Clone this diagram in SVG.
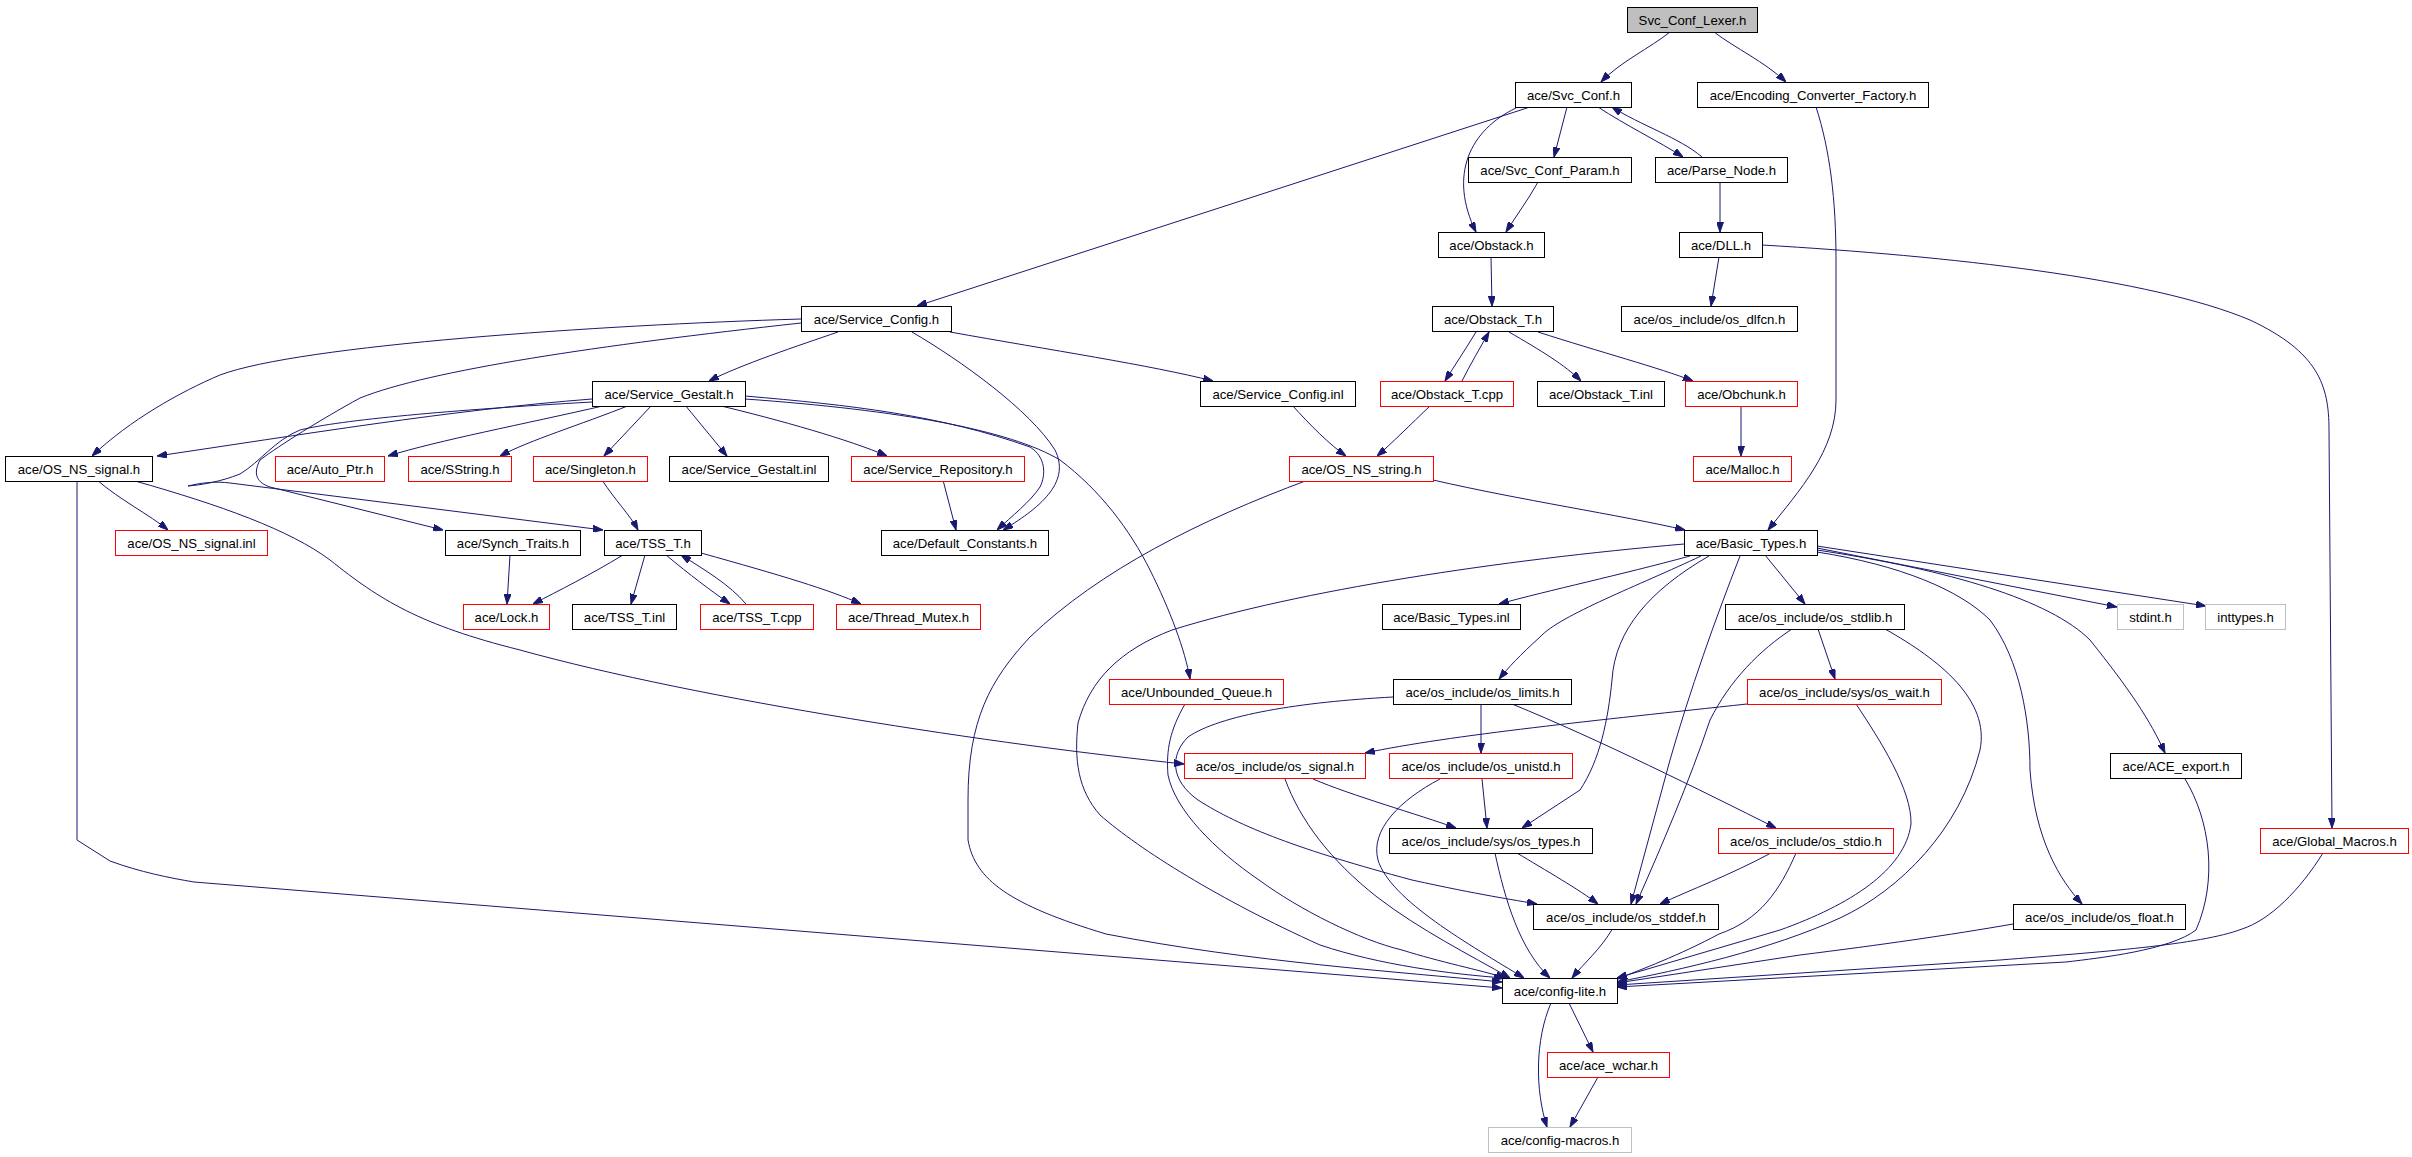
<svg xmlns="http://www.w3.org/2000/svg" width="2412" height="1157" viewBox="0 0 2412 1157">
<style>
.node rect{fill:#ffffff;stroke:#000000;stroke-width:1}
.node.red rect{stroke:#ff0000}
.node.gray rect{stroke:#bfbfbf}
.node.root rect{fill:#bfbfbf}
.node text{font-family:"Liberation Sans",Arial,sans-serif;font-size:13.2px;fill:#000000;text-anchor:middle}
#edges path{fill:none;stroke:#191970;stroke-width:1;marker-end:url(#arr)}
</style>
<defs>
<marker id="arr" viewBox="0 0 10 7" refX="10" refY="3.5" markerWidth="10" markerHeight="7" markerUnits="userSpaceOnUse" orient="auto">
<path d="M0,0 L10,3.5 L0,7 z" fill="#191970" stroke="#191970"/>
</marker>
</defs>
<rect width="2412" height="1157" fill="#ffffff"/>
<g id="edges">
<path d="M1670,32 C1650,48 1620,62 1601,82"/>
<path d="M1714,32 C1735,48 1765,62 1786,82"/>
<path d="M1530,107 L917,306"/>
<path d="M1516,108 C1470,130 1448,175 1476,232"/>
<path d="M1567,107 L1554,157"/>
<path d="M1598,107 C1625,125 1660,142 1683,157"/>
<path d="M1702,157 C1680,138 1640,125 1612,107"/>
<path d="M1538,182 C1528,200 1516,216 1506,232"/>
<path d="M1720,182 L1720,232"/>
<path d="M1719,257 L1711,306"/>
<path d="M1762,245 C1950,256 2150,278 2250,320 C2318,352 2329,385 2329,430 L2332,828"/>
<path d="M1816,107 C1830,150 1836,200 1836,260 L1836,400 C1836,450 1800,490 1768,530"/>
<path d="M1491,257 L1492,306"/>
<path d="M1476,332 C1465,350 1455,365 1445,381"/>
<path d="M1462,381 C1470,365 1480,348 1489,332"/>
<path d="M1509,332 C1540,350 1565,365 1581,381"/>
<path d="M1538,332 C1600,352 1660,368 1693,381"/>
<path d="M1741,405 L1741,456"/>
<path d="M1431,405 C1410,425 1390,445 1377,456"/>
<path d="M1292,405 C1310,425 1330,445 1346,456"/>
<path d="M1433,480 C1520,500 1620,515 1685,530"/>
<path d="M1308,480 C1200,520 1100,570 1030,637 C990,680 968,720 968,800 L968,840 C975,880 1010,905 1106,934 C1250,962 1400,972 1502,982"/>
<path d="M838,332 C800,345 740,365 709,381"/>
<path d="M801,319 C600,325 300,345 220,375 C180,392 130,420 92,456"/>
<path d="M801,323 C600,345 430,370 360,398 C320,420 280,445 260,460 C252,475 258,483 270,487 L443,530"/>
<path d="M912,332 C960,360 1030,410 1055,450 C1070,480 1045,505 1003,530"/>
<path d="M950,332 C1050,350 1150,365 1213,381"/>
<path d="M745,396 C850,405 940,415 1030,447 C1046,457 1046,475 1040,487 C1030,502 1012,516 997,530"/>
<path d="M745,399 C900,410 1010,430 1060,460 C1100,490 1130,530 1150,570 C1170,610 1185,650 1190,679"/>
<path d="M717,405 C780,420 850,440 887,456"/>
<path d="M685,405 L727,456"/>
<path d="M652,405 L604,456"/>
<path d="M630,405 C580,425 530,440 500,456"/>
<path d="M607,405 C520,425 440,440 388,456"/>
<path d="M592,399 C450,410 300,435 157,456"/>
<path d="M592,402 C450,410 340,420 300,430 C275,440 260,462 240,474 C220,482 200,485 188,486 C200,483 215,481 230,483 L603,530"/>
<path d="M943,480 L956,530"/>
<path d="M602,480 C615,500 630,515 638,530"/>
<path d="M510,555 L507,604"/>
<path d="M623,555 C590,575 560,590 533,604"/>
<path d="M645,555 L631,604"/>
<path d="M666,555 C690,575 710,590 730,604"/>
<path d="M746,604 C730,585 705,570 681,555"/>
<path d="M701,553 C780,575 830,590 861,604"/>
<path d="M97,480 C120,500 150,515 168,530"/>
<path d="M135,481 C220,505 290,530 330,560 C380,600 420,625 520,650 C700,700 1000,745 1184,764"/>
<path d="M77,480 L77,840 L110,861 C140,872 170,878 194,882 L1502,988"/>
<path d="M1684,544 C1500,560 1300,590 1172,630 C1120,650 1090,680 1078,723 C1074,760 1078,790 1100,815 C1140,850 1220,900 1320,945 C1380,965 1450,974 1504,978"/>
<path d="M1185,704 C1170,730 1166,750 1168,775 C1175,810 1215,850 1259,880 C1300,910 1360,940 1402,950 C1440,962 1480,970 1506,978"/>
<path d="M1393,697 C1300,702 1220,715 1188,737 C1170,755 1170,780 1198,800 C1240,827 1300,850 1412,880 C1480,895 1515,900 1537,904"/>
<path d="M1285,779 C1300,820 1330,860 1377,897 C1420,930 1470,955 1510,978"/>
<path d="M1313,779 C1350,795 1420,815 1456,828"/>
<path d="M1482,779 L1487,828"/>
<path d="M1440,779 C1400,800 1370,830 1378,860 C1390,900 1470,945 1524,978"/>
<path d="M1481,704 L1481,753"/>
<path d="M1512,704 C1600,740 1700,790 1776,828"/>
<path d="M1747,704 C1600,720 1450,735 1365,753"/>
<path d="M1818,629 L1835,679"/>
<path d="M1765,555 L1805,604"/>
<path d="M1709,556 C1650,590 1615,630 1612,680 C1608,720 1600,760 1580,790 L1522,828"/>
<path d="M1740,556 C1715,620 1690,690 1670,760 L1631,904"/>
<path d="M1792,629 C1760,650 1730,680 1710,720 C1690,780 1660,850 1636,904"/>
<path d="M1885,629 C1940,660 1990,700 1980,750 C1960,830 1900,890 1840,918 C1770,950 1680,970 1617,982"/>
<path d="M1856,704 C1880,740 1912,790 1911,824 C1905,870 1850,905 1780,930 L1617,978"/>
<path d="M1517,853 C1545,870 1580,890 1598,904"/>
<path d="M1495,853 C1505,900 1520,950 1550,978"/>
<path d="M1613,928 C1600,950 1585,962 1572,978"/>
<path d="M1771,853 C1730,875 1690,890 1660,904"/>
<path d="M1796,853 C1780,890 1760,920 1719,934 C1680,955 1640,970 1617,979"/>
<path d="M2013,924 C1950,935 1880,945 1800,955 L1617,983"/>
<path d="M2185,779 C2210,820 2218,880 2196,930 C2170,950 2100,958 2066,962 L1617,987"/>
<path d="M2323,853 C2300,890 2270,920 2242,929 C2200,945 2100,952 2000,960 L1617,985"/>
<path d="M1569,1003 L1593,1052"/>
<path d="M1551,1003 C1535,1040 1535,1090 1547,1127"/>
<path d="M1598,1077 L1570,1127"/>
<path d="M1690,556 C1620,575 1550,590 1499,604"/>
<path d="M1701,556 C1640,585 1560,615 1540,637 C1520,655 1508,668 1499,679"/>
<path d="M1817,552 C1900,565 1960,590 1990,620 C2020,660 2030,720 2030,770 C2035,840 2060,880 2082,904"/>
<path d="M1817,550 C1950,570 2050,600 2090,640 C2130,690 2150,720 2165,753"/>
<path d="M1817,548 L2117,607"/>
<path d="M1817,546 L2206,606"/>
</g>
<g id="n1" class="node root"><rect x="1627.5" y="7.5" width="130" height="25"/><text x="1692.5" y="25">Svc_Conf_Lexer.h</text></g>
<g id="n2" class="node"><rect x="1515.5" y="82.5" width="116" height="25"/><text x="1573.5" y="100">ace/Svc_Conf.h</text></g>
<g id="n3" class="node"><rect x="1697.5" y="82.5" width="231" height="25"/><text x="1813" y="100">ace/Encoding_Converter_Factory.h</text></g>
<g id="n4" class="node"><rect x="1468.5" y="157.5" width="163" height="25"/><text x="1550" y="175">ace/Svc_Conf_Param.h</text></g>
<g id="n5" class="node"><rect x="1655.5" y="157.5" width="132" height="25"/><text x="1721.5" y="175">ace/Parse_Node.h</text></g>
<g id="n6" class="node"><rect x="1438.5" y="232.5" width="106" height="25"/><text x="1491.5" y="250">ace/Obstack.h</text></g>
<g id="n7" class="node"><rect x="1679.5" y="232.5" width="83" height="25"/><text x="1721" y="250">ace/DLL.h</text></g>
<g id="n8" class="node"><rect x="801.5" y="306.5" width="150" height="25"/><text x="876.5" y="324">ace/Service_Config.h</text></g>
<g id="n9" class="node"><rect x="1432.5" y="306.5" width="121" height="25"/><text x="1493" y="324">ace/Obstack_T.h</text></g>
<g id="n10" class="node"><rect x="1621.5" y="306.5" width="176" height="25"/><text x="1709.5" y="324">ace/os_include/os_dlfcn.h</text></g>
<g id="n11" class="node"><rect x="592.5" y="381.5" width="153" height="25"/><text x="669" y="399">ace/Service_Gestalt.h</text></g>
<g id="n12" class="node"><rect x="1200.5" y="381.5" width="155" height="25"/><text x="1278" y="399">ace/Service_Config.inl</text></g>
<g id="n13" class="node red"><rect x="1380.5" y="381.5" width="133" height="25"/><text x="1447" y="399">ace/Obstack_T.cpp</text></g>
<g id="n14" class="node"><rect x="1537.5" y="381.5" width="127" height="25"/><text x="1601" y="399">ace/Obstack_T.inl</text></g>
<g id="n15" class="node red"><rect x="1685.5" y="381.5" width="112" height="25"/><text x="1741.5" y="399">ace/Obchunk.h</text></g>
<g id="n16" class="node"><rect x="5.5" y="456.5" width="147" height="25"/><text x="79" y="474">ace/OS_NS_signal.h</text></g>
<g id="n17" class="node red"><rect x="275.5" y="456.5" width="109" height="25"/><text x="330" y="474">ace/Auto_Ptr.h</text></g>
<g id="n18" class="node red"><rect x="408.5" y="456.5" width="103" height="25"/><text x="460" y="474">ace/SString.h</text></g>
<g id="n19" class="node red"><rect x="533.5" y="456.5" width="114" height="25"/><text x="590.5" y="474">ace/Singleton.h</text></g>
<g id="n20" class="node"><rect x="669.5" y="456.5" width="159" height="25"/><text x="749" y="474">ace/Service_Gestalt.inl</text></g>
<g id="n21" class="node red"><rect x="851.5" y="456.5" width="173" height="25"/><text x="938" y="474">ace/Service_Repository.h</text></g>
<g id="n22" class="node red"><rect x="1289.5" y="456.5" width="144" height="25"/><text x="1361.5" y="474">ace/OS_NS_string.h</text></g>
<g id="n23" class="node red"><rect x="1693.5" y="456.5" width="98" height="25"/><text x="1742.5" y="474">ace/Malloc.h</text></g>
<g id="n24" class="node red"><rect x="115.5" y="530.5" width="152" height="25"/><text x="191.5" y="548">ace/OS_NS_signal.inl</text></g>
<g id="n25" class="node"><rect x="445.5" y="530.5" width="135" height="25"/><text x="513" y="548">ace/Synch_Traits.h</text></g>
<g id="n26" class="node"><rect x="604.5" y="530.5" width="97" height="25"/><text x="653" y="548">ace/TSS_T.h</text></g>
<g id="n27" class="node"><rect x="881.5" y="530.5" width="167" height="25"/><text x="965" y="548">ace/Default_Constants.h</text></g>
<g id="n28" class="node"><rect x="1684.5" y="530.5" width="133" height="25"/><text x="1751" y="548">ace/Basic_Types.h</text></g>
<g id="n29" class="node red"><rect x="463.5" y="604.5" width="86" height="25"/><text x="506.5" y="622">ace/Lock.h</text></g>
<g id="n30" class="node"><rect x="572.5" y="604.5" width="104" height="25"/><text x="624.5" y="622">ace/TSS_T.inl</text></g>
<g id="n31" class="node red"><rect x="700.5" y="604.5" width="113" height="25"/><text x="757" y="622">ace/TSS_T.cpp</text></g>
<g id="n32" class="node red"><rect x="836.5" y="604.5" width="144" height="25"/><text x="908.5" y="622">ace/Thread_Mutex.h</text></g>
<g id="n33" class="node"><rect x="1382.5" y="604.5" width="138" height="25"/><text x="1451.5" y="622">ace/Basic_Types.inl</text></g>
<g id="n34" class="node"><rect x="1725.5" y="604.5" width="179" height="25"/><text x="1815" y="622">ace/os_include/os_stdlib.h</text></g>
<g id="n35" class="node gray"><rect x="2117.5" y="604.5" width="66" height="25"/><text x="2150.5" y="622">stdint.h</text></g>
<g id="n36" class="node gray"><rect x="2205.5" y="604.5" width="80" height="25"/><text x="2245.5" y="622">inttypes.h</text></g>
<g id="n37" class="node red"><rect x="1109.5" y="679.5" width="174" height="25"/><text x="1196.5" y="697">ace/Unbounded_Queue.h</text></g>
<g id="n38" class="node"><rect x="1393.5" y="679.5" width="178" height="25"/><text x="1482.5" y="697">ace/os_include/os_limits.h</text></g>
<g id="n39" class="node red"><rect x="1747.5" y="679.5" width="194" height="25"/><text x="1844.5" y="697">ace/os_include/sys/os_wait.h</text></g>
<g id="n40" class="node red"><rect x="1184.5" y="753.5" width="181" height="25"/><text x="1275" y="771">ace/os_include/os_signal.h</text></g>
<g id="n41" class="node red"><rect x="1389.5" y="753.5" width="183" height="25"/><text x="1481" y="771">ace/os_include/os_unistd.h</text></g>
<g id="n42" class="node"><rect x="2110.5" y="753.5" width="131" height="25"/><text x="2176" y="771">ace/ACE_export.h</text></g>
<g id="n43" class="node"><rect x="1389.5" y="828.5" width="203" height="25"/><text x="1491" y="846">ace/os_include/sys/os_types.h</text></g>
<g id="n44" class="node red"><rect x="1718.5" y="828.5" width="175" height="25"/><text x="1806" y="846">ace/os_include/os_stdio.h</text></g>
<g id="n45" class="node red"><rect x="2260.5" y="828.5" width="148" height="25"/><text x="2334.5" y="846">ace/Global_Macros.h</text></g>
<g id="n46" class="node"><rect x="1533.5" y="904.5" width="185" height="25"/><text x="1626" y="922">ace/os_include/os_stddef.h</text></g>
<g id="n47" class="node"><rect x="2013.5" y="904.5" width="172" height="25"/><text x="2099.5" y="922">ace/os_include/os_float.h</text></g>
<g id="n48" class="node"><rect x="1502.5" y="978.5" width="115" height="25"/><text x="1560" y="996">ace/config-lite.h</text></g>
<g id="n49" class="node red"><rect x="1547.5" y="1052.5" width="122" height="25"/><text x="1608.5" y="1070">ace/ace_wchar.h</text></g>
<g id="n50" class="node gray"><rect x="1488.5" y="1127.5" width="143" height="25"/><text x="1560" y="1145">ace/config-macros.h</text></g>
</svg>
